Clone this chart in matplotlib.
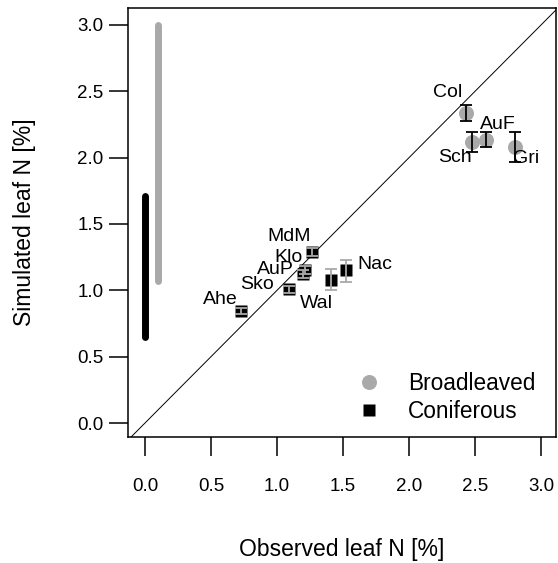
import matplotlib
matplotlib.use("Agg")
import matplotlib.pyplot as plt
from matplotlib.lines import Line2D

plt.rcParams['font.family'] = ['Liberation Sans', 'DejaVu Sans']

# ---- data ----
broad_sites = ["Col", "Sch", "AuF", "Gri"]
broad_obs = [2.43, 2.48, 2.58, 2.80]
broad_sim = [2.34, 2.12, 2.13, 2.08]
broad_lo = [2.28, 2.04, 2.08, 1.97]
broad_hi = [2.40, 2.19, 2.19, 2.19]

conif_sites = ["MdM", "Klo", "AuP", "Sko", "Ahe", "Wal", "Nac"]
conif_obs = [1.265, 1.21, 1.20, 1.09, 0.73, 1.41, 1.52]
conif_sim = [1.29, 1.15, 1.125, 1.007, 0.845, 1.08, 1.15]
conif_lo = [1.26, 1.12, 1.095, 0.98, 0.82, 1.00, 1.06]
conif_hi = [1.32, 1.18, 1.155, 1.035, 0.87, 1.16, 1.23]

# ranges of simulated values (vertical bars near x=0)
conif_range_x = 0.0
conif_range = [0.645, 1.71]
broad_range_x = 0.1
broad_range = [1.07, 3.0]

xticks = [0.0, 0.5, 1.0, 1.5, 2.0, 2.5, 3.0]
yticks = [0.0, 0.5, 1.0, 1.5, 2.0, 2.5, 3.0]
legend_labels = ["Broadleaved", "Coniferous"]

# ---- layout (label offsets in pixels) ----
broad_off = [(-18, 20), (-17, -16), (12, 16), (12, -11)]
conif_off = [(-23, 15), (-16, 13), (-28, 4), (-32, 5), (-21, 11), (-15, -24), (29, 6)]

GRAY = "#A9A9A9"

fig = plt.figure(figsize=(5.58, 5.63), dpi=100)
ax = fig.add_axes([128/558, 1-437/563, (556-128)/558, (437-8)/563])
ax.set_xlim(-0.1288, 3.1136)
ax.set_ylim(-0.1055, 3.128)

ax.axline((0, 0), slope=1, color="black", lw=0.7, zorder=1)

ax.plot([broad_range_x, broad_range_x], broad_range, color=GRAY, lw=5,
        solid_capstyle="round", zorder=2)
ax.plot([conif_range_x, conif_range_x], conif_range, color="black", lw=5,
        solid_capstyle="round", zorder=2)

ax.plot(broad_obs, broad_sim, "o", color=GRAY, ms=10.8, mec="none", zorder=3)
ax.plot(conif_obs, conif_sim, "s", color="black", ms=9.2, mec="none", zorder=3)

ax.errorbar(broad_obs, broad_sim,
            yerr=[[s - l for s, l in zip(broad_sim, broad_lo)],
                  [h - s for s, h in zip(broad_sim, broad_hi)]],
            fmt="none", ecolor="black", elinewidth=1.3, capsize=4.5,
            capthick=1.3, zorder=4)
ax.errorbar(conif_obs, conif_sim,
            yerr=[[s - l for s, l in zip(conif_sim, conif_lo)],
                  [h - s for s, h in zip(conif_sim, conif_hi)]],
            fmt="none", ecolor=GRAY, elinewidth=1.3, capsize=4.5,
            capthick=1.3, zorder=4)

for name, x, y, off in zip(broad_sites, broad_obs, broad_sim, broad_off):
    ax.annotate(name, (x, y), xytext=off, textcoords="offset pixels",
                ha="center", va="center", fontsize=14, zorder=5)
for name, x, y, off in zip(conif_sites, conif_obs, conif_sim, conif_off):
    ax.annotate(name, (x, y), xytext=off, textcoords="offset pixels",
                ha="center", va="center", fontsize=14, zorder=5)

# axes styling
for sp in ax.spines.values():
    sp.set_linewidth(1.1)
ax.set_xticks(xticks)
ax.set_xticklabels([f"{t:.1f}" for t in xticks])
ax.set_yticks(yticks)
ax.set_yticklabels([f"{t:.1f}" for t in yticks])
ax.tick_params(axis="both", direction="out", length=13.5, width=1.1, labelsize=13.5)
ax.tick_params(axis="x", pad=16)
ax.tick_params(axis="y", pad=4)

ax.set_xlabel("Observed leaf N [%]", fontsize=16.5, labelpad=31)
ax.set_ylabel("Simulated leaf N [%]", fontsize=16.5, labelpad=30)

handles = [Line2D([], [], ls="none", marker="o", color=GRAY, mec="none", ms=10.8),
           Line2D([], [], ls="none", marker="s", color="black", mec="none", ms=9.2)]
ax.legend(handles, legend_labels, loc="upper left",
          bbox_to_anchor=((358 - 128) / 428, 1 - (372 - 8) / 429),
          frameon=False, fontsize=16.3, handlelength=1.0, handletextpad=1.2,
          labelspacing=0.2, borderpad=0, borderaxespad=0)

fig.savefig("out.png", dpi=100)
